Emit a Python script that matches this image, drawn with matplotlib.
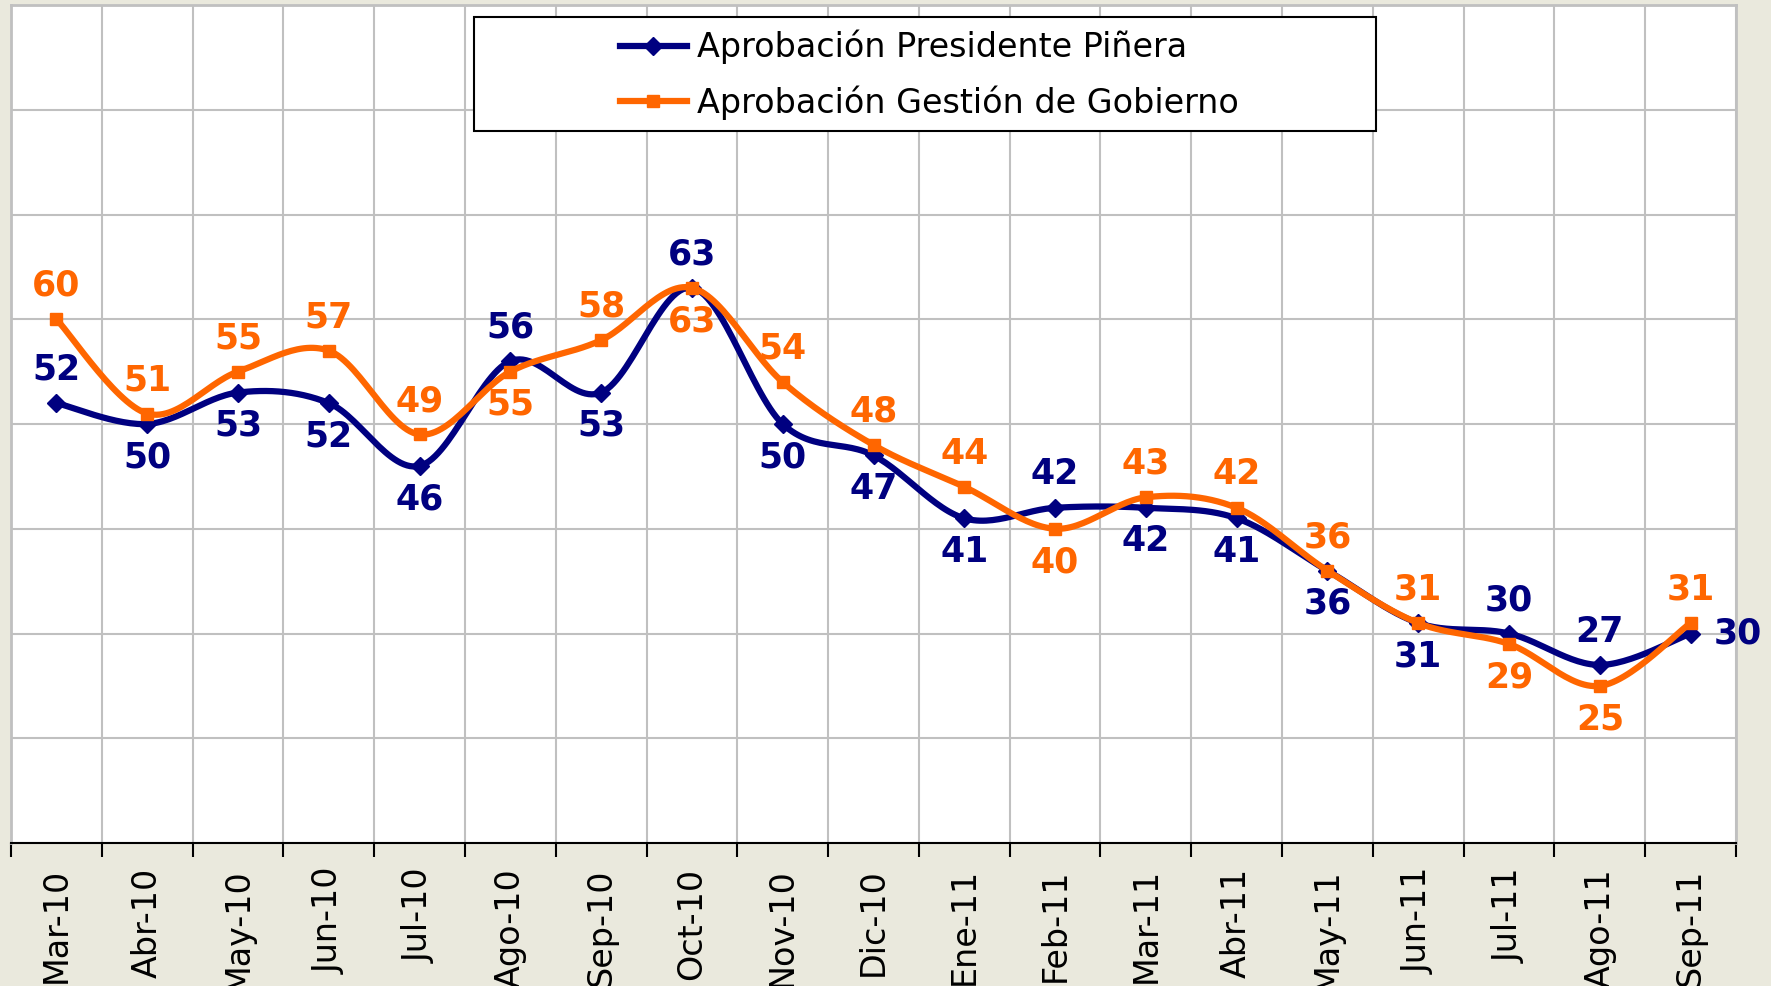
import numpy as np
import matplotlib
matplotlib.use("Agg")
import matplotlib.pyplot as plt
from matplotlib.patches import Rectangle

months = ["Mar-10", "Abr-10", "May-10", "Jun-10", "Jul-10", "Ago-10", "Sep-10",
          "Oct-10", "Nov-10", "Dic-10", "Ene-11", "Feb-11", "Mar-11", "Abr-11",
          "May-11", "Jun-11", "Jul-11", "Ago-11", "Sep-11"]
pinera = [52, 50, 53, 52, 46, 56, 53, 63, 50, 47, 41, 42, 42, 41, 36, 31, 30, 27, 30]
gobierno = [60, 51, 55, 57, 49, 55, 58, 63, 54, 48, 44, 40, 43, 42, 36, 31, 29, 25, 31]

# where each data label sits: a = above, b = below, r = right
pinera_pos = ["a", "b", "b", "b", "b", "a", "b", "a", "b", "b",
              "b", "a", "b", "b", "b", "b", "a", "a", "r"]
gobierno_pos = ["a", "a", "a", "a", "a", "b", "a", "b", "a", "a",
                "a", "b", "a", "a", "a", "a", "b", "b", "a"]

NAVY = "#000080"
ORANGE = "#FF6600"
BG = "#EAE9DD"
GRID = "#C0C0C0"

plt.rcParams["font.family"] = ["DejaVu Sans"]


def smooth(xs, ys, steps=30):
    # excel-like smoothed line (catmull-rom as bezier segments)
    p = np.column_stack([xs, ys]).astype(float)
    p = np.vstack([p[0], p, p[-1]])
    out = []
    t = np.linspace(0, 1, steps)[:, None]
    for i in range(1, len(p) - 2):
        a, d = p[i], p[i + 1]
        b = a + (p[i + 1] - p[i - 1]) / 6
        c = d - (p[i + 2] - p[i]) / 6
        seg = (1 - t) ** 3 * a + 3 * (1 - t) ** 2 * t * b + 3 * (1 - t) * t ** 2 * c + t ** 3 * d
        out.append(seg if i == 1 else seg[1:])
    out = np.vstack(out)
    return out[:, 0], out[:, 1]


W, H = 1771, 986
fig = plt.figure(figsize=(W / 100, H / 100), dpi=100, facecolor=BG)
ax = fig.add_axes([11 / W, (H - 843) / H, 1725 / W, 838 / H])
ax.set_facecolor("white")

x = np.arange(len(months))
ax.set_xlim(-0.5, len(months) - 0.5)
ax.set_ylim(10, 90)

# grid
ax.set_yticks(np.arange(10, 91, 10))
ax.set_xticks(np.arange(-0.5, len(months), 1))
ax.grid(True, color=GRID, lw=1.5, zorder=0)
ax.set_axisbelow(True)
ax.tick_params(axis="y", length=0, labelleft=False)
ax.tick_params(axis="x", which="major", length=10, width=1.5, color="black", labelbottom=False)
ax.set_xticks(x, minor=True)
ax.set_xticklabels(months, minor=True, rotation=90, fontsize=24, va="top", ha="center")
ax.tick_params(axis="x", which="minor", length=0, pad=18)

for s in ["top", "left", "right"]:
    ax.spines[s].set_color(GRID)
    ax.spines[s].set_linewidth(2)
ax.spines["bottom"].set_color("black")
ax.spines["bottom"].set_linewidth(1.5)

# lines
sx, sy = smooth(x, pinera)
ax.plot(sx, sy, color=NAVY, lw=4.5, zorder=3, solid_capstyle="round")
ax.plot(x, pinera, ls="none", marker="D", ms=9, color=NAVY, zorder=3)
gx, gy = smooth(x, gobierno)
ax.plot(gx, gy, color=ORANGE, lw=4.5, zorder=4, solid_capstyle="round")
ax.plot(x, gobierno, ls="none", marker="s", ms=9, color=ORANGE, zorder=4)

offsets = {"a": (0, 24), "b": (0, -24), "r": (34, 0)}
for vals, pos, col in [(pinera, pinera_pos, NAVY), (gobierno, gobierno_pos, ORANGE)]:
    for xi, v, p in zip(x, vals, pos):
        ax.annotate(str(v), (xi, v), xytext=offsets[p], textcoords="offset points",
                    ha="center", va="center", fontsize=25, fontweight="bold",
                    color=col, zorder=6)

# legend
fig.add_artist(Rectangle((474 / W, (H - 131) / H), 902 / W, 114 / H,
                         transform=fig.transFigure, facecolor="white",
                         edgecolor="black", lw=1.5, zorder=5))
h1, = ax.plot([], [], color=NAVY, lw=4.5, marker="D", ms=9)
h2, = ax.plot([], [], color=ORANGE, lw=4.5, marker="s", ms=9)
leg = fig.legend([h1, h2], ["Aprobación Presidente Piñera", "Aprobación Gestión de Gobierno"],
                 loc="upper left", bbox_to_anchor=(620 / W, (H - 30) / H),
                 frameon=False, fontsize=24, handlelength=2.0, handletextpad=0.3,
                 labelspacing=0.62, borderpad=0, borderaxespad=0)
leg.set_zorder(7)

fig.savefig("out.png", dpi=100, facecolor=BG)
